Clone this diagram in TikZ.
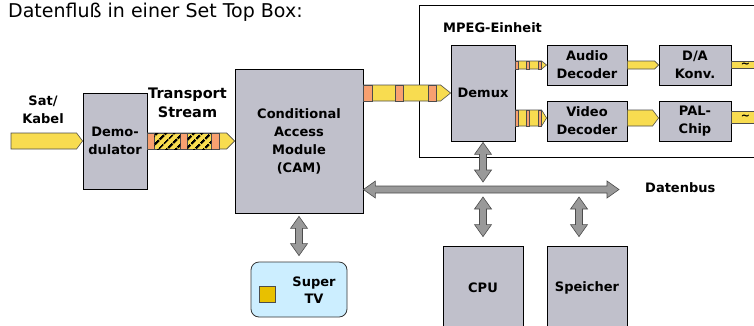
\documentclass[tikz,border=0pt]{standalone}
\usepackage{fontspec}
\setmainfont{DejaVu Sans}
\usetikzlibrary{calc,patterns.meta}

\definecolor{boxgray}{HTML}{C0C0CB}
\definecolor{flowyellow}{HTML}{F8DC50}
\definecolor{bandorange}{HTML}{F8A070}
\definecolor{busgray}{HTML}{999999}
\definecolor{tvblue}{HTML}{CCEEFF}
\definecolor{chipyellow}{HTML}{E8C000}

\tikzset{
  block/.style={draw=black, line width=0.8pt, fill=boxgray, align=center,
    inner sep=0pt, font=\bfseries\fontsize{13}{18}\selectfont},
  txt/.style={align=center, inner sep=0pt, font=\bfseries\fontsize{13}{18}\selectfont},
  flow/.style={fill=flowyellow, draw=black!70, line width=0.6pt},
  band/.style={fill=bandorange, draw=black!70, line width=0.6pt},
  hatch/.style={fill=flowyellow, draw=black!70, line width=0.6pt,
    postaction={pattern={Lines[angle=45,distance=6.5pt,line width=2.6pt]}, pattern color=black}},
  bus/.style={fill=busgray, draw=black!70, line width=0.6pt},
  acsign/.style={font=\bfseries\fontsize{11}{11}\selectfont, inner sep=0pt}
}

% yellow flow arrow: [style]{from}{to}{half height}{tip length}
\newcommand{\flowarrow}[5][flow]{%
  \filldraw[#1] ($(#2)+(0,-#4)$) -- ($(#3)+(-#5,-#4)$) -- (#3)
    -- ($(#3)+(-#5,#4)$) -- ($(#2)+(0,#4)$) -- cycle;}
% band on a flow arrow: {style}{from}{x1}{x2}{half height}
\newcommand{\bandseg}[5]{%
  \filldraw[#1] ($(#2)+(#3,-#5)$) rectangle ($(#2)+(#4,#5)$);}
% grey double arrows of the bus
\newcommand{\vbus}[2]{%
  \filldraw[bus] (#1) -- ++(8.5,12) -- ++(-5,0) -- ($(#2)+(3.5,-12)$) -- ++(5,0)
    -- (#2) -- ++(-8.5,-12) -- ++(5,0) -- ($(#1)+(-3.5,12)$) -- ++(-5,0) -- cycle;}
\newcommand{\hbus}[2]{%
  \filldraw[bus] (#1) -- ++(12,-8.5) -- ++(0,5) -- ($(#2)+(-12,-3.5)$) -- ++(0,-5)
    -- (#2) -- ++(-12,8.5) -- ++(0,-5) -- ($(#1)+(12,3.5)$) -- ++(0,5) -- cycle;}

\begin{document}
\begin{tikzpicture}[x=1pt,y=-1pt]
  \useasboundingbox (0,0) rectangle (754,325);

  \node[anchor=base west, inner sep=0pt, font=\fontsize{19}{22}\selectfont] (title) at (8,17)
    {Datenfluß in einer Set Top Box:};

  % MPEG-Einheit
  \node[draw=black, line width=0.8pt, fill=white, minimum width=351pt, minimum height=152pt,
    anchor=north west] (mpeg) at (419,5) {};
  \node[txt, anchor=west] (mpeglbl) at (443,28) {MPEG-Einheit};

  % blocks
  \node[block, minimum width=64pt, minimum height=96pt] (demod) at (115,141) {Demo-\\dulator};
  \node[block, minimum width=128pt, minimum height=144pt] (cam) at (299,141)
    {Conditional\\Access\\Module\\(CAM)};
  \node[block, minimum width=64pt, minimum height=96pt] (demux) at (483,93) {Demux};
  \node[block, minimum width=80pt, minimum height=40pt] (audio) at (587,65) {Audio\\Decoder};
  \node[block, minimum width=80pt, minimum height=40pt] (video) at (587,121) {Video\\Decoder};
  \node[block, minimum width=72pt, minimum height=40pt] (da) at (695,65) {D/A\\Konv.};
  \node[block, minimum width=72pt, minimum height=40pt] (pal) at (695,121) {PAL-\\Chip};
  \node[block, minimum width=80pt, minimum height=84pt] (cpu) at (483,288) {CPU};
  \node[block, minimum width=80pt, minimum height=84pt] (mem) at (587,288) {Speicher};

  % Super TV
  \node[draw=black!80, line width=0.8pt, fill=tvblue, rounded corners=8pt,
    minimum width=96pt, minimum height=55pt] (stv) at (299,289.5) {};
  \node[draw=black!70, line width=0.6pt, fill=chipyellow, minimum size=16pt, inner sep=0pt]
    (chip) at (267,294) {};
  \node[txt, font=\bfseries\fontsize{13}{17}\selectfont] (stvlbl) at (314,290) {Super\\TV};

  % labels
  \node[txt] (satlbl) at (43,109.5) {Sat/\\Kabel};
  \node[txt, font=\bfseries\fontsize{14.5}{19}\selectfont] (tslbl) at (187.5,102.5) {Transport\\Stream};
  \node[txt, anchor=west] (buslbl) at (645,188) {Datenbus};

  % end points
  \coordinate (sat) at (11,141);
  \coordinate (camout) at (cam.east |- demux.west);
  \coordinate (audout) at (demux.east |- audio.west);
  \coordinate (vidstart) at ($(demux.east |- video.west)+(0,-3)$);
  \coordinate (vidin) at ($(video.west)+(0,-3)$);
  \coordinate (vidout) at ($(video.east)+(0,-3)$);
  \coordinate (palin) at ($(pal.west)+(0,-3)$);
  \coordinate (palout) at ($(pal.east)+(0,-4)$);
  \coordinate (busR) at (619,189.5);
  \coordinate (busL) at (cam.east |- busR);
  \coordinate (demuxB) at ($(demux.south)+(0,1)$);
  \coordinate (demuxBus) at ($(demux.south |- busR)+(0,-7.5)$);
  \coordinate (cpuBus) at ($(cpu.north |- busR)+(0,7.5)$);
  \coordinate (cpuT) at ($(cpu.north)+(0,-9)$);
  \coordinate (memBus) at ($(mem.north |- busR)+(-8,7.5)$);
  \coordinate (memT) at ($(mem.north)+(-8,-9)$);
  \coordinate (camB) at ($(cam.south)+(0,3)$);
  \coordinate (stvT) at ($(stv.north)+(0,-6)$);

  % data flow
  \flowarrow{sat}{demod.west}{8}{6}
  \flowarrow{demod.east}{cam.west}{8}{8}
  \foreach \a/\b in {0/7,33/40,64/72} \bandseg{band}{demod.east}{\a}{\b}{8};
  \foreach \a/\b in {7/33,40/64} \bandseg{hatch}{demod.east}{\a}{\b}{8};
  \flowarrow{camout}{demux.west}{8}{10}
  \foreach \a/\b in {0/9,32/40,65/73} \bandseg{band}{camout}{\a}{\b}{8};
  \flowarrow{audout}{audio.west}{4}{5}
  \foreach \a/\b in {0/3,11/14,23/26} \bandseg{band}{audout}{\a}{\b}{4};
  \flowarrow{vidstart}{vidin}{8}{5}
  \foreach \a/\b in {0/3,11/14,23/26} \bandseg{band}{vidstart}{\a}{\b}{8};
  \flowarrow{audio.east}{da.west}{4}{4}
  \flowarrow{vidout}{palin}{8}{6}

  % analog outputs
  \filldraw[flow] ($(da.east)+(0,-3.5)$) rectangle ++(40,7);
  \filldraw[flow] ($(palout)+(0,-6)$) rectangle ++(40,12);
  \node[acsign] (daac) at ($(da.east)+(14,0)$) {\textasciitilde};
  \node[acsign] (palac) at ($(palout)+(14,0)$) {\textasciitilde};

  % Datenbus
  \hbus{busL}{busR}
  \vbus{demuxB}{demuxBus}
  \vbus{cpuBus}{cpuT}
  \vbus{memBus}{memT}
  \vbus{camB}{stvT}
\end{tikzpicture}
\end{document}
